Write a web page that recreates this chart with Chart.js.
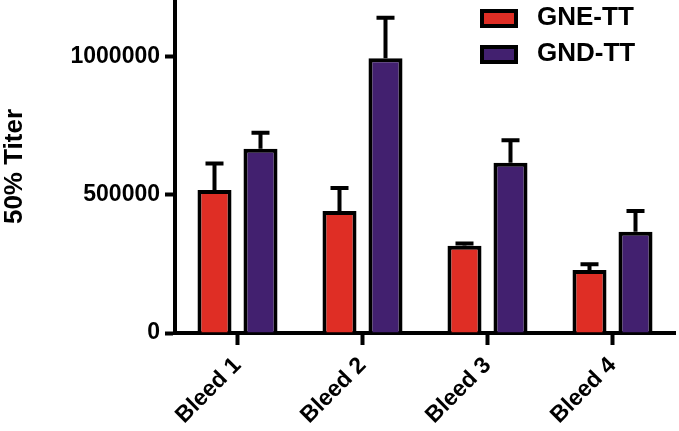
<!DOCTYPE html>
<html>
<head>
<meta charset="utf-8">
<script src="https://cdn.jsdelivr.net/npm/chart.js@4"></script>
<style>
html, body { margin: 0; padding: 0; background: #fff; }
</style>
</head>
<body>
<canvas id="chart" width="679" height="431"></canvas>
<script>
const bleeds = ['Bleed 1', 'Bleed 2', 'Bleed 3', 'Bleed 4']
const gneTT = [518000, 442000, 316000, 228000]
const gneErr = [96000, 83000, 8000, 21000]
const gndTT = [667000, 995000, 617000, 367000]
const gndErr = [58000, 147000, 81000, 75000]
const yTicks = [0, 500000, 1000000]
const yMax = 1206000

const family = '"Liberation Sans", Arial, sans-serif'
Chart.defaults.font.family = family
Chart.defaults.color = '#000'

const errs = [gneErr, gndErr]

// draw the upper error bar of every bar
const errorBars = {
	id: 'errorBars',
	afterDatasetsDraw(chart) {
		const ctx = chart.ctx
		const yScale = chart.scales.y
		chart.data.datasets.forEach((ds, i) => {
			chart.getDatasetMeta(i).data.forEach((bar, j) => {
				const top = yScale.getPixelForValue(ds.data[j] + errs[i][j])
				ctx.save()
				ctx.strokeStyle = '#000'
				ctx.lineWidth = 4
				ctx.beginPath()
				ctx.moveTo(bar.x, bar.y)
				ctx.lineTo(bar.x, top)
				ctx.moveTo(bar.x - 9, top)
				ctx.lineTo(bar.x + 9, top)
				ctx.stroke()
				ctx.restore()
			})
		})
	}
}

// legend sits inside the plot, top right
const legendBox = {
	id: 'legendBox',
	afterDraw(chart) {
		const ctx = chart.ctx
		chart.data.datasets.forEach((ds, i) => {
			const y = 18 + i * 36
			ctx.save()
			ctx.fillStyle = ds.backgroundColor
			ctx.strokeStyle = '#000'
			ctx.lineWidth = 4
			ctx.fillRect(482, y - 7, 34, 15)
			ctx.strokeRect(482, y - 7, 34, 15)
			ctx.fillStyle = '#000'
			ctx.font = 'bold 26px ' + family
			ctx.textBaseline = 'middle'
			ctx.fillText(ds.label, 537, y)
			ctx.restore()
		})
	}
}

new Chart(document.getElementById('chart').getContext('2d'), {
	type: 'bar',
	data: {
		labels: bleeds,
		datasets: [{
			label: 'GNE-TT',
			data: gneTT,
			backgroundColor: '#df2e25',
			borderColor: '#000',
			borderWidth: 4
		}, {
			label: 'GND-TT',
			data: gndTT,
			backgroundColor: '#42206f',
			borderColor: '#000',
			borderWidth: 4
		}]
	},
	options: {
		responsive: false,
		animation: false,
		categoryPercentage: 0.736,
		barPercentage: 0.74,
		layout: { padding: { top: 0, right: 4, left: 0, bottom: 0 } },
		plugins: {
			legend: { display: false },
			tooltip: { enabled: false }
		},
		scales: {
			x: {
				offset: true,
				z: 1,
				grid: { offset: false, drawOnChartArea: false, tickLength: 12, tickWidth: 4, tickColor: '#000' },
				border: { color: '#000', width: 4 },
				ticks: { minRotation: 45, maxRotation: 45, padding: 7, font: { size: 23, weight: 'bold' } },
				afterFit(s) { s.height = 98 }
			},
			y: {
				min: 0,
				max: yMax,
				afterBuildTicks(s) { s.ticks = yTicks.map(v => ({ value: v })) },
				grid: { drawOnChartArea: false, tickLength: 10, tickWidth: 4, tickColor: '#000' },
				border: { color: '#000', width: 4 },
				ticks: { padding: 5, font: { size: 23, weight: 'bold' }, callback: v => String(v) },
				title: { display: true, text: '50% Titer', padding: { top: 2, bottom: 0 }, font: { size: 26, weight: 'bold', lineHeight: 1 } },
				afterFit(s) {
					s.width = 175
					s.paddingTop = 0
					s.paddingBottom = 0
				}
			}
		}
	},
	plugins: [errorBars, legendBox]
})
</script>
</body>
</html>
